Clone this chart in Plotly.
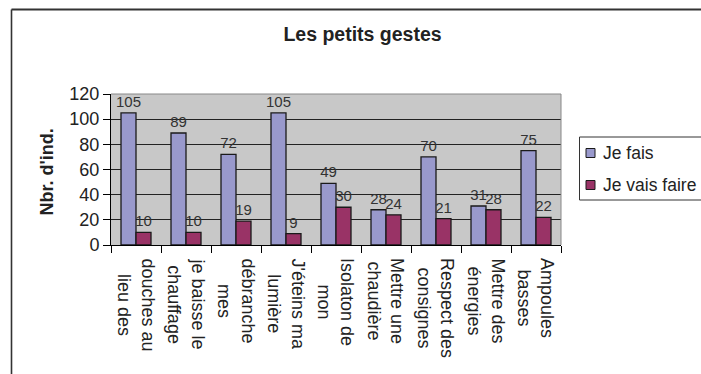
import plotly.graph_objects as go

# Survey results: number of individuals per small everyday gesture
categories = [
    "douches au<br>lieu des",
    "je baisse le<br>chauffage",
    "débranche<br>mes",
    "J'éteins ma<br>lumière",
    "Isolaton de<br>mon",
    "Mettre une<br>chaudière",
    "Respect des<br>consignes",
    "Mettre des<br>énergies",
    "Ampoules<br>basses",
]
je_fais = [105, 89, 72, 105, 49, 28, 70, 31, 75]
je_vais_faire = [10, 10, 19, 9, 30, 24, 21, 28, 22]
series_names = ["Je fais", "Je vais faire"]
y_ticks = [0, 20, 40, 60, 80, 100, 120]

BLUE = "#9999CC"
PLUM = "#993366"
FONT = "Arial, 'Liberation Sans', sans-serif"
TXT = "#222222"

W, H = 701, 374
ML, MR, MT, MB = 111, 140, 94, 129
PW, PH = W - ML - MR, H - MT - MB


def px_x(px):
    return (px - ML) / PW


def px_y(py):
    return (H - MB - py) / PH


fig = go.Figure()
for name, vals, col in zip(series_names, [je_fais, je_vais_faire], [BLUE, PLUM]):
    fig.add_trace(go.Bar(
        name=name, x=categories, y=vals,
        marker=dict(color=col, line=dict(color="#1a1a1a", width=1.3)),
        text=[str(v) for v in vals], textposition="outside",
        textfont=dict(family=FONT, size=15, color="#333333"),
        constraintext="none", cliponaxis=False, showlegend=False,
    ))

shapes = [
    # outer chart frame (top and left edges)
    dict(type="line", xref="paper", yref="paper", x0=px_x(11.5), x1=px_x(720),
         y0=px_y(9.5), y1=px_y(9.5), line=dict(color="#333333", width=2)),
    dict(type="line", xref="paper", yref="paper", x0=px_x(11.5), x1=px_x(11.5),
         y0=px_y(9.5), y1=px_y(400), line=dict(color="#333333", width=1.6)),
    # plot-area border (top and right)
    dict(type="line", xref="paper", yref="paper", x0=0, x1=1, y0=1, y1=1,
         line=dict(color="#888888", width=1)),
    dict(type="line", xref="paper", yref="paper", x0=1, x1=1, y0=0, y1=1,
         line=dict(color="#888888", width=1)),
    # legend box
    dict(type="rect", xref="paper", yref="paper", x0=px_x(579.5), x1=px_x(730),
         y0=px_y(200), y1=px_y(137), line=dict(color="#333333", width=1),
         fillcolor="white"),
]
annotations = []
for i, (name, col) in enumerate(zip(series_names, [BLUE, PLUM])):
    cy = 153 + i * 32
    shapes.append(dict(type="rect", xref="paper", yref="paper",
                       x0=px_x(586), x1=px_x(595), y0=px_y(cy + 4.5), y1=px_y(cy - 4.5),
                       fillcolor=col, line=dict(color="#1a1a1a", width=1)))
    annotations.append(dict(xref="paper", yref="paper", x=px_x(601), y=px_y(cy),
                            text=name, showarrow=False, xanchor="left", yanchor="middle",
                            font=dict(family=FONT, size=17.5, color=TXT)))

# category labels, rotated and centre-aligned
for c in categories:
    annotations.append(dict(x=c, xref="x", y=0, yref="paper", text=c, textangle=90,
                            showarrow=False, xanchor="center", yanchor="top", yshift=-11,
                            align="center", font=dict(family=FONT, size=18, color=TXT)))

# y-axis title
annotations.append(dict(xref="paper", yref="paper", x=px_x(46.5), y=px_y(172),
                        text="<b>Nbr. d'ind.</b>", textangle=-90, showarrow=False,
                        xanchor="center", yanchor="middle",
                        font=dict(family=FONT, size=18, color=TXT)))

fig.update_layout(
    width=W, height=H,
    margin=dict(l=ML, r=MR, t=MT, b=MB, autoexpand=False),
    paper_bgcolor="white", plot_bgcolor="#C8C8C8",
    barmode="group", bargap=0.4, bargroupgap=0,
    title=dict(text="<b>Les petits gestes</b>", x=px_x(362.5), xref="paper",
               xanchor="center", y=1 - 34.5 / H, yref="container", yanchor="middle",
               font=dict(family=FONT, size=19.5, color=TXT)),
    shapes=shapes, annotations=annotations,
    showlegend=False,
)
fig.update_xaxes(showticklabels=False, showgrid=False, showline=True, linecolor="black",
                 linewidth=1, ticks="outside", ticklen=7, tickcolor="black",
                 tickson="boundaries")
fig.update_yaxes(range=[0, 120], tickvals=y_ticks, showgrid=True, gridcolor="#222222",
                 gridwidth=1, showline=True, linecolor="black", linewidth=1,
                 ticks="outside", ticklen=7, tickcolor="black", zeroline=False,
                 tickfont=dict(family=FONT, size=18, color=TXT))

fig.write_html("out.html")
